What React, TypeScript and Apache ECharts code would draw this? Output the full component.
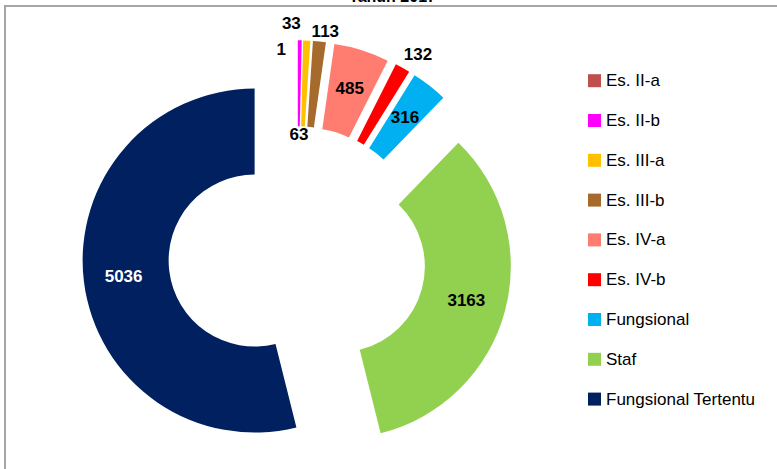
import React, { useEffect, useRef } from 'react';
import * as echarts from 'echarts';

const categories = [
  'Es. II-a',
  'Es. II-b',
  'Es. III-a',
  'Es. III-b',
  'Es. IV-a',
  'Es. IV-b',
  'Fungsional',
  'Staf',
  'Fungsional Tertentu',
];
const values = [1, 33, 63, 113, 485, 132, 316, 3163, 5036];
const colors = ['#C0504D', '#FF00FF', '#FFC000', '#A66A2C', '#FF7C70', '#FF0000', '#00B0F0', '#92D050', '#002060'];
const labelColors = ['#000', '#000', '#000', '#000', '#000', '#000', '#000', '#000', '#FFF'];
const titleText = 'Tahun 2017';

// manual nudges of the small-slice labels, relative to their inside position
const labelShift: Record<number, [number, number]> = {
  0: [-16, -31],
  1: [-8, -57],
  2: [-6, 54],
  3: [10, -50],
  5: [35, -48],
};

const FONT = "'Liberation Sans', Arial, sans-serif";

export default function App() {
  const ref = useRef<HTMLDivElement>(null);
  useEffect(() => {
    if (!ref.current) return;
    const chart = echarts.init(ref.current, null, { renderer: 'svg' });
    const data = categories.map((name, i) => ({
      name,
      value: values[i],
      selected: true,
      itemStyle: { color: colors[i] },
      label: { color: labelColors[i] },
    }));
    chart.setOption({
      animation: false,
      backgroundColor: '#fff',
      legend: {
        orient: 'vertical',
        left: 588,
        top: 70.7,
        padding: 0,
        itemWidth: 13,
        itemHeight: 13,
        itemGap: 19.8,
        icon: 'rect',
        selectedMode: false,
        data: categories,
        textStyle: { fontSize: 17, fontFamily: FONT, color: '#000', lineHeight: 20 },
      },
      graphic: [
        {
          type: 'rect',
          shape: { x: 5, y: 6, width: 820, height: 520 },
          style: { fill: 'none', stroke: '#A6A6A6', lineWidth: 2 },
          silent: true,
        },
        {
          type: 'text',
          x: 392.5,
          y: 4.5,
          style: {
            text: titleText,
            fontSize: 16,
            fontWeight: 'bold',
            fontFamily: FONT,
            fill: '#000',
            align: 'center',
            verticalAlign: 'bottom',
          },
          silent: true,
        },
      ],
      series: [
        {
          type: 'pie',
          center: [297.3, 255.3],
          radius: [86, 172],
          startAngle: 90,
          clockwise: true,
          selectedMode: 'multiple',
          selectedOffset: 43,
          avoidLabelOverlap: false,
          emphasis: { scale: false },
          itemStyle: { borderWidth: 0 },
          label: {
            show: true,
            position: 'inside',
            formatter: '{c}',
            fontSize: 17,
            fontWeight: 'bold',
            fontFamily: FONT,
          },
          labelLine: { show: false },
          labelLayout: (params: any) => {
            const s = labelShift[params.dataIndex];
            return s ? { dx: s[0], dy: s[1] } : {};
          },
          data,
        },
      ],
    });
    return () => chart.dispose();
  }, []);
  return <div ref={ref} style={{ position: 'fixed', left: 0, top: 0, width: 777, height: 469 }} />;
}
